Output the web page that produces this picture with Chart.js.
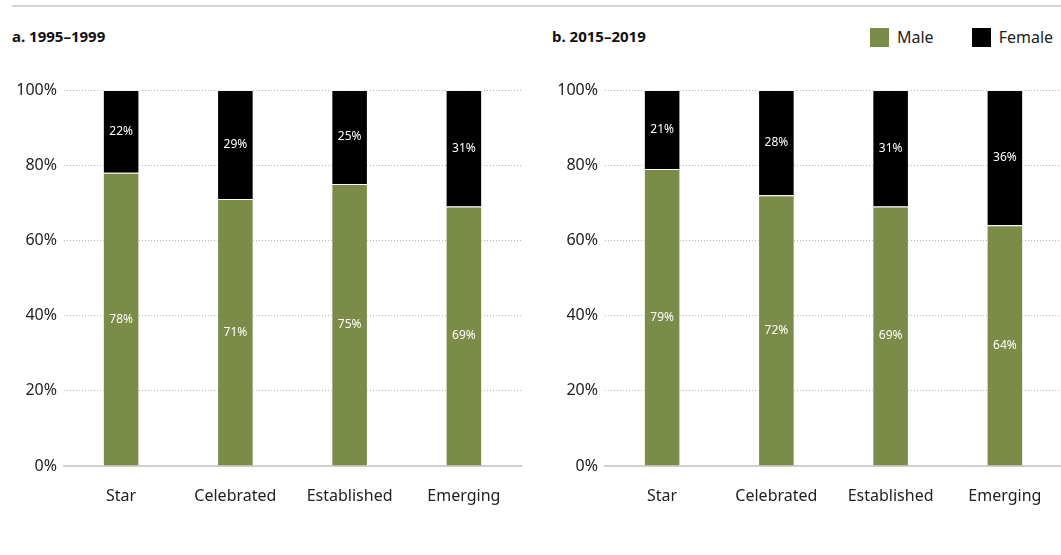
<!DOCTYPE html>
<html>
<head>
<meta charset="utf-8">
<script src="https://cdn.jsdelivr.net/npm/chart.js@4"></script>
<style>
  body { margin: 0; width: 1061px; height: 555px; overflow: hidden; position: relative; background: #fff; font-family: "Noto Sans", sans-serif; color: #222; }
  .rule { position: absolute; left: 12px; top: 5px; width: 1060px; height: 2px; background: #d4d4d4; }
  .title { position: absolute; top: 26px; font-size: 15px; font-weight: 700; color: #111; }
  .wrap { position: absolute; top: 0; width: 530px; height: 555px; }
  .legend { position: absolute; top: 26px; left: 870px; display: flex; align-items: center; font-size: 16px; white-space: nowrap; }
  .legend span.box { display: inline-block; width: 19px; height: 19px; margin-right: 8px; }
  .legend span.lbl { margin-right: 38px; }
</style>
</head>
<body>
<div class="rule"></div>
<div class="title" style="left:12px">a. 1995–1999</div>
<div class="title" style="left:552px">b. 2015–2019</div>
<div class="legend">
  <span class="box" style="background:#7b8b48"></span><span class="lbl">Male</span>
  <span class="box" style="background:#000"></span><span>Female</span>
</div>
<div class="wrap" style="left:0"><canvas id="chartA"></canvas></div>
<div class="wrap" style="left:541px"><canvas id="chartB"></canvas></div>
<script>
const categories = ['Star', 'Celebrated', 'Established', 'Emerging'];
const male1995 = [78, 71, 75, 69];
const female1995 = [22, 29, 25, 31];
const male2015 = [79, 72, 69, 64];
const female2015 = [21, 28, 31, 36];
const yTicks = [0, 20, 40, 60, 80, 100];

const GREEN = '#7b8b48';

// writes the % value in the middle of each bar segment
const segmentLabels = {
  id: 'segmentLabels',
  afterDatasetsDraw(chart) {
    const ctx = chart.ctx;
    ctx.save();
    ctx.fillStyle = '#fff';
    ctx.font = '12px "Noto Sans", sans-serif';
    ctx.textAlign = 'center';
    ctx.textBaseline = 'middle';
    chart.data.datasets.forEach((ds, i) => {
      const meta = chart.getDatasetMeta(i);
      meta.data.forEach((bar, j) => {
        const y = (bar.y + bar.base) / 2;
        ctx.fillText(ds.data[j] + '%', bar.x, y);
      });
    });
    ctx.restore();
  }
};

function makeChart(id, male, female) {
  const ctx = document.getElementById(id).getContext('2d');
  return new Chart(ctx, {
    type: 'bar',
    data: {
      labels: categories,
      datasets: [
        { label: 'Male', data: male, backgroundColor: GREEN, borderColor: 'rgba(255,255,255,0.55)', borderWidth: 1 },
        { label: 'Female', data: female, backgroundColor: '#000', borderColor: 'rgba(255,255,255,0.55)', borderWidth: 1 }
      ]
    },
    options: {
      responsive: true,
      maintainAspectRatio: false,
      animation: false,
      categoryPercentage: 1,
      barPercentage: 0.32,
      layout: { padding: { top: 90, right: 9, left: 0, bottom: 0 } },
      plugins: { legend: { display: false }, tooltip: { enabled: false } },
      scales: {
        x: {
          stacked: true,
          grid: { display: false, drawTicks: false },
          border: { display: true, color: '#cfcfcf', width: 2 },
          ticks: { color: '#222', font: { family: 'Noto Sans', size: 16 }, padding: 21 },
          afterFit(scale) { scale.height = 89; }
        },
        y: {
          stacked: true,
          min: 0,
          max: 100,
          afterBuildTicks(scale) { scale.ticks = yTicks.map(v => ({ value: v })); },
          grid: {
            drawTicks: false,
            color: c => (c.tick && c.tick.value === 0) ? 'rgba(0,0,0,0)' : '#b5b5b5',
            lineWidth: 1
          },
          border: { display: false, dash: [1, 2] },
          ticks: { color: '#222', font: { family: 'Noto Sans', size: 16 }, padding: 7, callback: v => v + '%' },
          afterFit(scale) { scale.width = 64; }
        }
      }
    },
    plugins: [segmentLabels]
  });
}

makeChart('chartA', male1995, female1995);
makeChart('chartB', male2015, female2015);
</script>
</body>
</html>
